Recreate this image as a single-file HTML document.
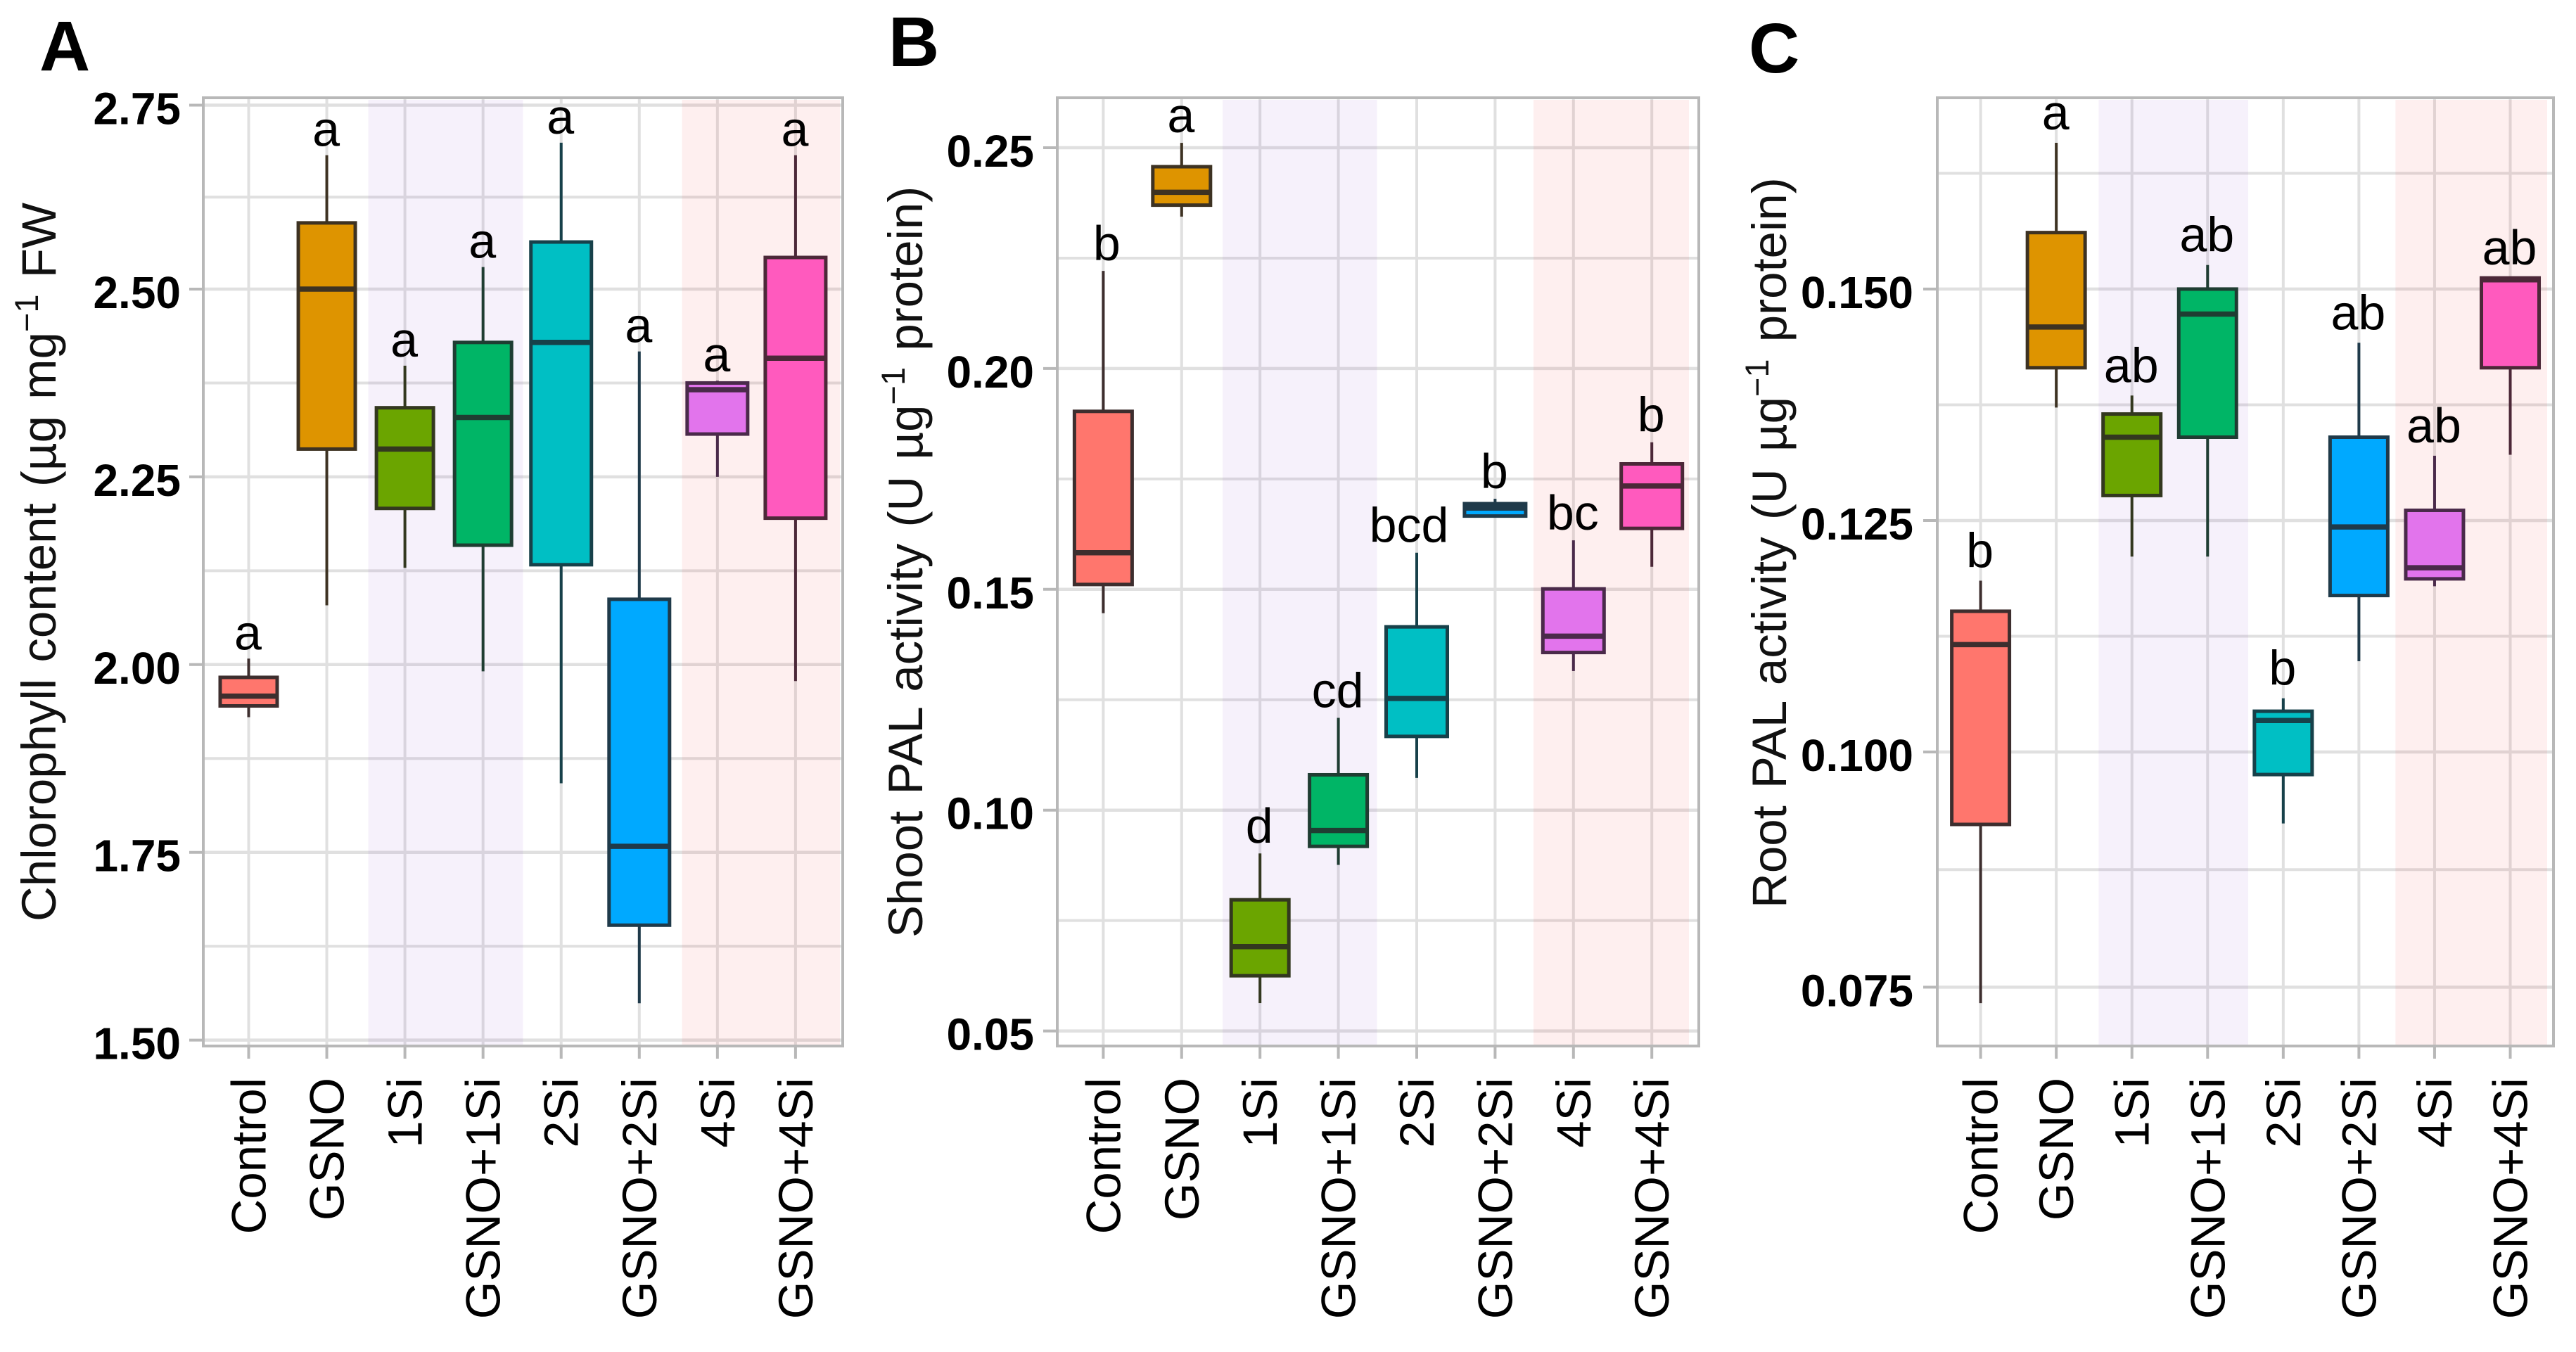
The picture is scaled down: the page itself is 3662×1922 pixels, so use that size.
<!DOCTYPE html>
<html lang="en">
<head>
<meta charset="utf-8">
<title>Chlorophyll content and PAL activity boxplots</title>
<style>
  html, body { margin: 0; padding: 0; background: #fff; }
  svg { display: block; font-family: "Liberation Sans", sans-serif; }
</style>
</head>
<body>
<svg id="figure" xmlns="http://www.w3.org/2000/svg" width="3662" height="1922" viewBox="0 0 3662 1922">
  <rect x="0" y="0" width="3662" height="1922" fill="#ffffff"/>
  <g id="panels"></g>
  <text x="56" y="100" font-size="100" font-weight="700" fill="#000">A</text>
  <text x="1263" y="94" font-size="100" font-weight="700" fill="#000">B</text>
  <text x="2486" y="103" font-size="100" font-weight="700" fill="#000">C</text>
  <text transform="translate(79,1310) rotate(-90)" font-size="69" word-spacing="4" fill="#111">Chlorophyll content (µg mg<tspan dy="-25" font-size="47">−1</tspan><tspan dy="25"> FW</tspan></text>
  <text transform="translate(1311,1333) rotate(-90)" font-size="69" word-spacing="4" fill="#111">Shoot PAL activity (U µg<tspan dy="-25" font-size="47">−1</tspan><tspan dy="25"> protein)</tspan></text>
  <text transform="translate(2539,1291) rotate(-90)" font-size="69" word-spacing="5" fill="#111">Root PAL activity (U µg<tspan dy="-25" font-size="47">−1</tspan><tspan dy="25"> protein)</tspan></text>
</svg>
<script>
const categories = ['Control', 'GSNO', '1Si', 'GSNO+1Si', '2Si', 'GSNO+2Si', '4Si', 'GSNO+4Si'];

const aWhiskerHigh = [2.008, 2.682, 2.398, 2.530, 2.699, 2.417, 2.378, 2.682];
const aBoxHigh     = [1.983, 2.590, 2.342, 2.429, 2.564, 2.087, 2.375, 2.543];
const aMedian      = [1.958, 2.500, 2.287, 2.329, 2.429, 1.758, 2.366, 2.408];
const aBoxLow      = [1.945, 2.287, 2.208, 2.159, 2.133, 1.653, 2.307, 2.195];
const aWhiskerLow  = [1.930, 2.079, 2.129, 1.991, 1.842, 1.549, 2.250, 1.978];
const aLetters     = ['a', 'a', 'a', 'a', 'a', 'a', 'a', 'a'];
const aTicks       = ['1.50', '1.75', '2.00', '2.25', '2.50', '2.75'];
const aMinorTicks  = [1.625, 1.875, 2.125, 2.375, 2.625];

const bWhiskerHigh = [0.2221, 0.2511, 0.0902, 0.1209, 0.1583, 0.1705, 0.1611, 0.1833];
const bBoxHigh     = [0.1903, 0.2457, 0.0797, 0.1080, 0.1415, 0.1694, 0.1501, 0.1784];
const bMedian      = [0.1583, 0.2399, 0.0691, 0.0954, 0.1253, 0.1684, 0.1394, 0.1734];
const bBoxLow      = [0.1511, 0.2370, 0.0625, 0.0918, 0.1167, 0.1666, 0.1357, 0.1638];
const bWhiskerLow  = [0.1446, 0.2344, 0.0563, 0.0876, 0.1073, 0.1663, 0.1315, 0.1551];
const bLetters     = ['b', 'a', 'd', 'cd', 'bcd', 'b', 'bc', 'b'];
const bTicks       = ['0.05', '0.10', '0.15', '0.20', '0.25'];
const bMinorTicks  = [0.075, 0.125, 0.175, 0.225];

const cWhiskerHigh = [0.1185, 0.1658, 0.1385, 0.1526, 0.1058, 0.1442, 0.1320, 0.1512];
const cBoxHigh     = [0.1152, 0.1561, 0.1365, 0.1500, 0.1044, 0.1340, 0.1261, 0.1512];
const cMedian      = [0.1116, 0.1459, 0.1340, 0.1473, 0.1034, 0.1243, 0.1199, 0.1510];
const cBoxLow      = [0.0923, 0.1415, 0.1277, 0.1340, 0.0976, 0.1169, 0.1187, 0.1415];
const cWhiskerLow  = [0.0733, 0.1372, 0.1211, 0.1211, 0.0924, 0.1098, 0.1179, 0.1321];
const cLetters     = ['b', 'a', 'ab', 'ab', 'b', 'ab', 'ab', 'ab'];
const cTicks       = ['0.075', '0.100', '0.125', '0.150'];
const cMinorTicks  = [0.0875, 0.1125, 0.1375, 0.1625];

const fillPalette = ['#FF766D', '#DE9400', '#6BA500', '#00B566', '#00BFC4', '#00A9FF', '#E274EC', '#FF5ABE'];
const edgePalette = ['#3d2e2e', '#3d3222', '#33381f', '#1f3d32', '#17414a', '#1f3a4a', '#4a2a4a', '#4c2838'];

const SVG_NS = 'http://www.w3.org/2000/svg';
const root = document.getElementById('panels');

function make(tag, attrs, parent) {
  const el = document.createElementNS(SVG_NS, tag);
  for (const key in attrs) el.setAttribute(key, attrs[key]);
  parent.appendChild(el);
  return el;
}

function piecewiseScale(domain, range) {
  return function (v) {
    let i = 0;
    while (i < domain.length - 2 && v > domain[i + 1]) i++;
    const t = (v - domain[i]) / (domain[i + 1] - domain[i]);
    return range[i] + t * (range[i + 1] - range[i]);
  };
}

function drawPanel(p) {
  const id = p.id;
  const g = make('g', {}, root);
  
  

  const x = i => p.firstX + i * p.stepX;
  const y = piecewiseScale(p.yDomain, p.yRange);
  const w = p.right - p.left;
  const h = p.bottom - p.top;

  const bg = make('rect', { x: p.left, y: p.top, width: w, height: h, fill: '#fff' }, g);
  
  

  p.minorTicks.forEach(v => {
    const line = make('line', { x1: p.left, x2: p.right, y1: y(v), y2: y(v), stroke: '#e0e0e0', 'stroke-width': 4 }, g);
    
    
  });
  p.ticks.forEach(t => {
    const v = parseFloat(t);
    const line = make('line', { x1: p.left, x2: p.right, y1: y(v), y2: y(v), stroke: '#e0e0e0', 'stroke-width': 4.5 }, g);
    
    
  });
  categories.forEach((c, i) => {
    const line = make('line', { x1: x(i), x2: x(i), y1: p.top, y2: p.bottom, stroke: '#e0e0e0', 'stroke-width': 4 }, g);
    
    
  });

  const purple = make('rect', { x: p.purple[0], y: p.top + 3, width: p.purple[1] - p.purple[0], height: h - 3, fill: 'rgb(155,89,210)', 'fill-opacity': 0.085 }, g);
  
  
  const pink = make('rect', { x: p.pink[0], y: p.top + 3, width: p.pink[1] - p.pink[0], height: h - 3, fill: 'rgb(240,50,50)', 'fill-opacity': 0.08 }, g);
  
  

  const frame = make('rect', { x: p.left, y: p.top, width: w, height: h, fill: 'none', stroke: '#b8b8b8', 'stroke-width': 4 }, g);
  
  

  p.ticks.forEach(t => {
    const v = parseFloat(t);
    const tick = make('line', { x1: p.left - 20, x2: p.left, y1: y(v), y2: y(v), stroke: '#b8b8b8', 'stroke-width': 4 }, g);
    
    
    const label = make('text', { x: p.labelRight, y: y(v) + 27, 'text-anchor': 'end', 'font-size': 64, 'font-weight': 700, fill: '#000' }, g);
    label.textContent = t;
    
    
  });

  categories.forEach((c, i) => {
    const slug = id + '-' + c.toLowerCase().replace('+', '-plus-');
    const cx = x(i);
    const tick = make('line', { x1: cx, x2: cx, y1: p.bottom, y2: p.bottom + 18, stroke: '#b8b8b8', 'stroke-width': 4 }, g);
    
    
    const label = make('text', { transform: 'translate(' + (cx + 24) + ',1532) rotate(-90)', 'text-anchor': 'end', 'font-size': 69, fill: '#000' }, g);
    label.textContent = c;
    
    

    const bw = i < 4 ? p.boxNarrow : p.boxWide;
    const edge = edgePalette[i];
    const whiskerHigh = make('line', { x1: cx, x2: cx, y1: y(p.whiskerHigh[i]), y2: y(p.boxHigh[i]), stroke: edge, 'stroke-width': 4 }, g);
    
    
    const whiskerLow = make('line', { x1: cx, x2: cx, y1: y(p.boxLow[i]), y2: y(p.whiskerLow[i]), stroke: edge, 'stroke-width': 4 }, g);
    
    
    const box = make('rect', { x: cx - bw / 2, y: y(p.boxHigh[i]), width: bw, height: y(p.boxLow[i]) - y(p.boxHigh[i]), fill: fillPalette[i], stroke: edge, 'stroke-width': 5 }, g);
    
    
    const median = make('line', { x1: cx - bw / 2, x2: cx + bw / 2, y1: y(p.median[i]), y2: y(p.median[i]), stroke: edge, 'stroke-width': 7.5 }, g);
    
    
    const letter = make('text', { x: cx + (p.letters[i] === 'bcd' ? -11 : (i === 0 && id === 'b' ? 5 : -1)), y: y(p.whiskerHigh[i]) - p.letterGap, 'text-anchor': 'middle', 'font-size': 70, fill: '#000' }, g);
    letter.textContent = p.letters[i];
    
    
  });
}

drawPanel({
  id: 'a', left: 289, right: 1198, top: 139, bottom: 1487, labelRight: 257,
  firstX: 353.5, stepX: 111.06, purple: [523.5, 743.4], pink: [969.6, 1194],
  yDomain: [1.5, 2.5, 2.75], yRange: [1478.6, 411, 149.5], boxNarrow: 81, boxWide: 86, letterGap: 13,
  ticks: aTicks, minorTicks: aMinorTicks, letters: aLetters,
  whiskerHigh: aWhiskerHigh, boxHigh: aBoxHigh, median: aMedian, boxLow: aBoxLow, whiskerLow: aWhiskerLow
});
drawPanel({
  id: 'b', left: 1503, right: 2415, top: 139, bottom: 1487, labelRight: 1470,
  firstX: 1568.4, stepX: 111.4, purple: [1738, 1957.5], pink: [2180, 2401],
  yDomain: [0.05, 0.25], yRange: [1465.6, 210], boxNarrow: 82, boxWide: 87, letterGap: 15,
  ticks: bTicks, minorTicks: bMinorTicks, letters: bLetters,
  whiskerHigh: bWhiskerHigh, boxHigh: bBoxHigh, median: bMedian, boxLow: bBoxLow, whiskerLow: bWhiskerLow
});
drawPanel({
  id: 'c', left: 2754, right: 3630, top: 139, bottom: 1487, labelRight: 2720,
  firstX: 2815.6, stepX: 107.56, purple: [2983.4, 3196], pink: [3405.4, 3621],
  yDomain: [0.075, 0.1, 0.1625], yRange: [1403.4, 1069, 246.4], boxNarrow: 82, boxWide: 82, letterGap: 19,
  ticks: cTicks, minorTicks: cMinorTicks, letters: cLetters,
  whiskerHigh: cWhiskerHigh, boxHigh: cBoxHigh, median: cMedian, boxLow: cBoxLow, whiskerLow: cWhiskerLow
});
</script>
</body>
</html>
